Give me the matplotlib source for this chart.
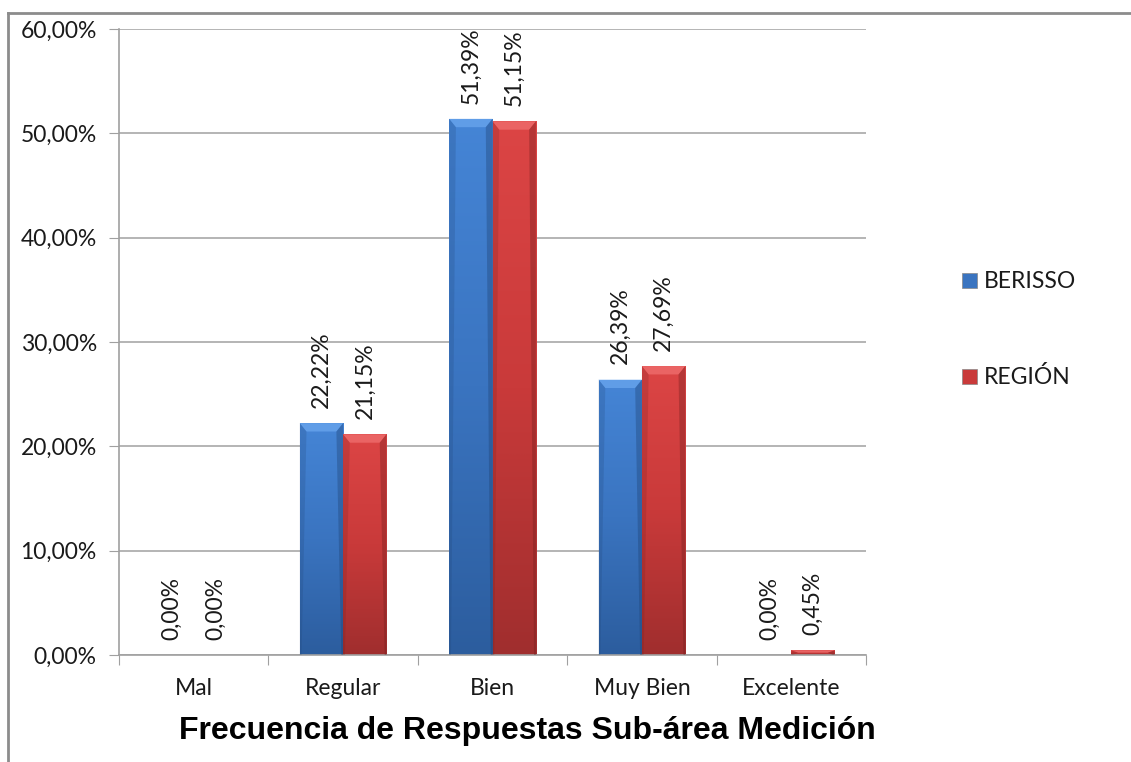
import numpy as np
import matplotlib
matplotlib.use("Agg")
import matplotlib.pyplot as plt
from matplotlib.patches import Rectangle, Polygon
from matplotlib.lines import Line2D
from matplotlib.colors import LinearSegmentedColormap

categories = ["Mal", "Regular", "Bien", "Muy Bien", "Excelente"]
berisso = [0.00, 22.22, 51.39, 26.39, 0.00]
region = [0.00, 21.15, 51.15, 27.69, 0.45]
series_names = ["BERISSO", "REGIÓN"]
y_ticks = [0, 10, 20, 30, 40, 50, 60]

W, H = 1131, 762
fig = plt.figure(figsize=(W / 100, H / 100), dpi=100)
fig.patch.set_facecolor("white")

FONT = ["Lato", "DejaVu Sans"]
FS = 16.5

ax = fig.add_axes([119 / W, 1 - 655 / H, (866 - 119) / W, (655 - 29) / H])
ax.set_xlim(-0.5, len(categories) - 0.5)
ax.set_ylim(0, 60)

# outer chart frame
fig.add_artist(Line2D([8 / W, 8 / W], [0, 1 - 13 / H], color="#8c8c8c", lw=2,
                      transform=fig.transFigure))
fig.add_artist(Line2D([8 / W, 1], [1 - 13 / H, 1 - 13 / H], color="#8c8c8c", lw=2,
                      transform=fig.transFigure))

for s in ["top", "right"]:
    ax.spines[s].set_visible(False)
for s in ["left", "bottom"]:
    ax.spines[s].set_color("#a0a0a0")
    ax.spines[s].set_linewidth(1.2)

ax.set_yticks(y_ticks)
ax.set_yticklabels([f"{v:.2f}".replace(".", ",") + "%" for v in y_ticks],
                   fontsize=FS, family=FONT, color="#1a1a1a")
ax.yaxis.grid(True, color="#a0a0a0", lw=1.1)
ax.set_axisbelow(True)
ax.tick_params(axis="y", length=7, color="#a0a0a0", pad=9)

# category ticks on boundaries, labels at centers
ax.set_xticks(np.arange(-0.5, len(categories), 1.0))
ax.set_xticklabels([])
ax.tick_params(axis="x", length=7, color="#a0a0a0")
for i, c in enumerate(categories):
    ax.annotate(c, xy=(i, 0), xycoords="data", xytext=(0, -24),
                textcoords="offset points", ha="center", va="center",
                fontsize=FS, family=FONT, color="#1a1a1a")

bw = 0.29
x = np.arange(len(categories))

blue_cmap = LinearSegmentedColormap.from_list("b", ["#2c5d9e", "#3a74c0", "#4585d6"])
red_cmap = LinearSegmentedColormap.from_list("r", ["#a02e2e", "#c93a3a", "#dc4545"])

def draw_bar(xc, h, cmap, light, dark):
    if h <= 0:
        return
    x0, x1 = xc - bw / 2, xc + bw / 2
    rect = Rectangle((x0, 0), bw, h, facecolor="none", edgecolor="none")
    ax.add_patch(rect)
    grad = np.linspace(0, 1, 256).reshape(-1, 1)
    im = ax.imshow(grad, cmap=cmap, aspect="auto", extent=(x0, x1, 0, h),
                   origin="lower", zorder=2, interpolation="bilinear")
    im.set_clip_path(rect)
    # bevel edges
    dx = 0.045
    dy = min(0.8, h / 2)
    ax.add_patch(Polygon([(x0, h), (x1, h), (x1 - dx, h - dy), (x0 + dx, h - dy)],
                         closed=True, facecolor=light, edgecolor="none", alpha=0.75, zorder=3))
    ax.add_patch(Polygon([(x1, h), (x1, 0), (x1 - 0.012, 0), (x1 - dx, h - dy)],
                         closed=True, facecolor=dark, edgecolor="none", alpha=0.35, zorder=3))
    ax.add_patch(Polygon([(x0, h), (x0, 0), (x0 + 0.012, 0), (x0 + dx, h - dy)],
                         closed=True, facecolor=dark, edgecolor="none", alpha=0.2, zorder=3))

for i in range(len(categories)):
    draw_bar(x[i] - bw / 2, berisso[i], blue_cmap, "#6aa6ee", "#1d3f6e")
    draw_bar(x[i] + bw / 2, region[i], red_cmap, "#f07070", "#6e1d1d")

def fmt(v):
    return f"{v:.2f}".replace(".", ",") + "%"

for i in range(len(categories)):
    for xc, v in ((x[i] - bw / 2, berisso[i]), (x[i] + bw / 2, region[i])):
        ax.annotate(fmt(v), xy=(xc, v), xytext=(0, 11), textcoords="offset points",
                    rotation=90, ha="center", va="bottom", fontsize=FS,
                    family=FONT, color="#1a1a1a", zorder=5)

# legend
for k, (name, col) in enumerate(zip(series_names, ["#3a74c0", "#c93a3a"])):
    yc = 1 - (281 + 96 * k) / H
    fig.add_artist(Rectangle((962 / W, yc - 7.5 / H), 15 / W, 15 / H,
                             facecolor=col, edgecolor="#888888", lw=0.5,
                             transform=fig.transFigure))
    fig.text(984 / W, yc, name, fontsize=FS, family=FONT, va="center", ha="left",
             color="#1a1a1a")

fig.text(527 / W, 1 - 731 / H, "Frecuencia de Respuestas Sub-área Medición",
         fontsize=23, fontweight="bold", family=["Liberation Sans", "DejaVu Sans"],
         ha="center", va="center", color="black")

fig.savefig("out.png", dpi=100)
